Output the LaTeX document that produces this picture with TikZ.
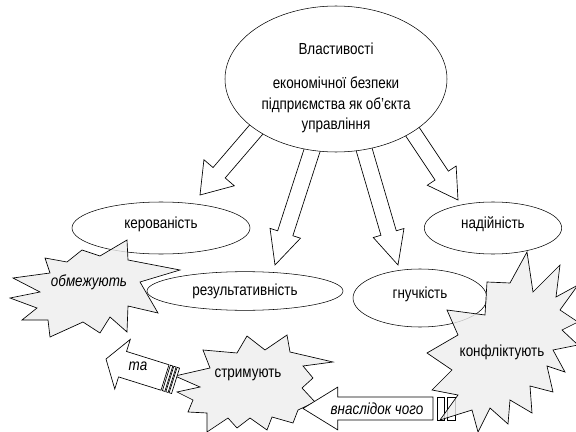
\documentclass[tikz,border=0pt]{standalone}
\usepackage{fontspec}
\setmainfont{Liberation Sans}[FakeStretch=0.84]
\usetikzlibrary{shapes.geometric,calc}

\tikzset{
  prop/.style={draw,ellipse,fill=white,inner sep=0pt,font=\fontsize{12}{14}\selectfont},
  mid/.style={text height=8pt,text depth=8pt},
  hollow/.style={draw,fill=white,line width=0.5pt,line join=miter},
  burst/.style={draw,fill=gray!13,fill opacity=0.8,line width=0.5pt},
  txt/.style={font=\fontsize{12}{14}\selectfont},
  lbl/.style={font=\fontsize{12}{14}\selectfont\itshape}
}

% hollow block arrow: tail, tip, shaft half width, head half width, head length
\newcommand{\hollowarrow}[5]{%
  \coordinate (neck) at ($(#2)!#5!(#1)$);
  \draw[hollow] ($(#1)!#3!90:(#2)$) -- ($(neck)!#3!90:(#2)$) -- ($(neck)!#4!90:(#2)$) -- (#2)
    -- ($(neck)!#4!-90:(#2)$) -- ($(neck)!#3!-90:(#2)$) -- ($(#1)!#3!-90:(#2)$) -- cycle;}
% stripe behind the tail: tail, tip, from, to, half width
\newcommand{\tailstripe}[5]{%
  \coordinate (sa) at ($(#1)!-#3!(#2)$);\coordinate (sb) at ($(#1)!-#4!(#2)$);
  \draw[hollow] ($(sa)!#5!90:(#2)$) -- ($(sb)!#5!90:(#2)$) -- ($(sb)!#5!-90:(#2)$) -- ($(sa)!#5!-90:(#2)$) -- cycle;}

\begin{document}
\begin{tikzpicture}[x=0.75pt,y=-0.75pt]
\useasboundingbox (0,0) rectangle (576,432);
% arrows out of the main ellipse
\coordinate (a1) at (267,117);\coordinate (b1) at (200,195);
\coordinate (a2) at (318,132);\coordinate (b2) at (275,265);
\coordinate (a3) at (359,132);\coordinate (b3) at (398,265);
\coordinate (a4) at (402,116);\coordinate (b4) at (458,200);
\hollowarrow{a1}{b1}{6pt}{15pt}{22pt}
\hollowarrow{a2}{b2}{6pt}{12pt}{25pt}
\hollowarrow{a3}{b3}{6pt}{12pt}{25pt}
\hollowarrow{a4}{b4}{6pt}{13pt}{22pt}

\node[prop,minimum width=166.5pt,minimum height=109.5pt] (main) at (336,79) {};
\node[txt,align=center,font=\fontsize{12}{15.4}\selectfont] (mainTxt) at (336,88)
  {Властивості\\[10pt]економічної безпеки\\підприємства як об’єкта\\управління};

\node[prop,mid,minimum width=133.5pt,minimum height=39pt] (ker) at (161,228) {керованість};
\node[prop,minimum width=147pt,minimum height=29pt] (rez) at (245,291) {результативність};
\node[prop,mid,minimum width=100.5pt,minimum height=43.5pt] (gn) at (420,298) {гнучкість};
\node[prop,mid,minimum width=103pt,minimum height=39pt] (nad) at (493,228) {надійність};

% bursts
\draw[burst] (127,240) -- (128,260) -- (180,270) -- (140,282) -- (158,313) -- (128,306)
  -- (127,332) -- (110,317) -- (100,333) -- (83,322) -- (50,337) -- (48,320) -- (22,320)
  -- (37,308) -- (10,298) -- (40,292) -- (13,278) -- (50,273) -- (45,258) -- (67,262)
  -- (82,250) -- (100,256) -- cycle;
\draw[burst] (287,335) -- (290,352) -- (333,362) -- (303,366) -- (313,378) -- (302,388)
  -- (315,402) -- (298,410) -- (293,423) -- (272,417) -- (267,430) -- (250,418) -- (237,428)
  -- (228,418) -- (207,432) -- (207,413) -- (188,412) -- (193,400) -- (177,392) -- (200,387)
  -- (175,376) -- (210,368) -- (203,350) -- (237,353) -- (247,336) -- (265,350) -- cycle;

% striped arrows
\coordinate (ta1) at (165,377.5);\coordinate (ta2) at (106,359);
\hollowarrow{ta1}{ta2}{10pt}{19.5pt}{13pt}
\tailstripe{ta1}{ta2}{1.1pt}{3pt}{10pt}
\tailstripe{ta1}{ta2}{3.8pt}{5.6pt}{10pt}
\tailstripe{ta1}{ta2}{6.4pt}{8.3pt}{10pt}
\coordinate (vn1) at (433,408.5);\coordinate (vn2) at (303,408.5);
\hollowarrow{vn1}{vn2}{8.6pt}{16pt}{26pt}
\tailstripe{vn1}{vn2}{3pt}{8.3pt}{8.6pt}
\tailstripe{vn1}{vn2}{10.5pt}{16.5pt}{8.6pt}

\draw[burst] (527,252) -- (533,292) -- (560,265) -- (556,297) -- (578,285) -- (560,310)
  -- (578,322) -- (562,330) -- (578,345) -- (553,350) -- (565,372) -- (547,366) -- (553,392)
  -- (530,386) -- (532,413) -- (510,400) -- (508,424) -- (490,408) -- (478,432) -- (472,410)
  -- (440,420) -- (458,395) -- (432,390) -- (452,370) -- (427,353) -- (458,335) -- (447,310)
  -- (485,315) -- (487,282) -- (510,283) -- cycle;

\node[lbl] (obm) at (89,282) {обмежують};
\node[txt] (str) at (248,375) {стримують};
\node[txt] (konf) at (502,352) {конфліктують};
\node[lbl] (ta) at (138,366) {та};
\node[lbl] (vn) at (377,409) {внаслідок чого};
\end{tikzpicture}
\end{document}
